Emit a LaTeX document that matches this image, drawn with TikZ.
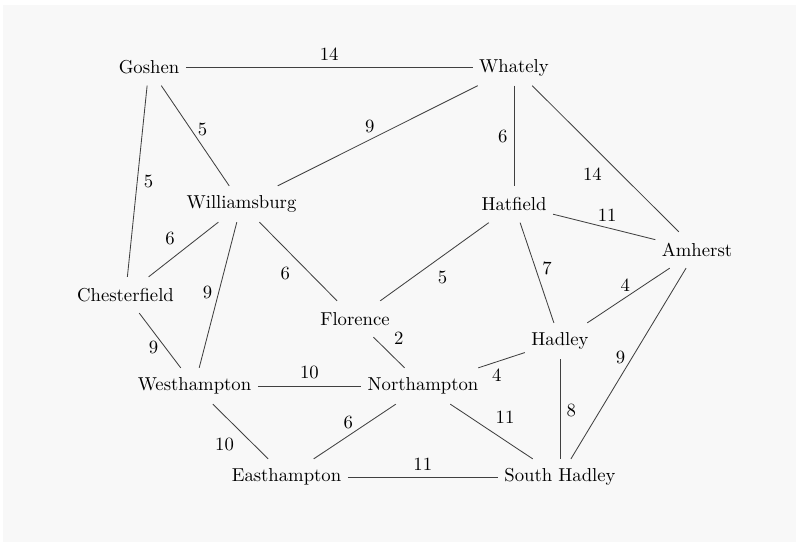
\documentclass[tikz,border=0pt]{standalone}
\definecolor{bgc}{HTML}{F8F8F8}
\begin{document}
\begin{tikzpicture}[x=0.5348pt,y=-0.5348pt,
  town/.style={inner sep=3.33pt,minimum height=19pt},
  road/.style={draw=black!75,line width=0.45pt},
  lbl/.style={inner sep=3.33pt,font=\normalsize}]
\fill[white] (0,0) rectangle (796,542);
\fill[bgc] (3,5) rectangle (796,542);
\useasboundingbox (0,0) rectangle (796,542);
% towns
\node[town] (gos) at (149,67.5) {Goshen};
\node[town] (wha) at (514,67.5) {Whately};
\node[town] (wil) at (241.5,204) {Williamsburg};
\node[town] (hat) at (514,204.5) {Hatfield};
\node[town] (amh) at (697,250) {Amherst};
\node[town] (che) at (125.5,295) {Chesterfield};
\node[town] (flo) at (355,319) {Florence};
\node[town] (had) at (560,341) {Hadley};
\node[town] (wes) at (194.5,386) {Westhampton};
\node[town] (nor) at (423,386) {Northampton};
\node[town] (eas) at (286.5,477) {Easthampton};
\node[town] (sou) at (560,477) {South Hadley};
% roads
\draw[road] (gos) -- node[lbl,pos=0.5,anchor=south] {14} (wha);
\draw[road] (gos) -- node[lbl,pos=0.44,anchor=west] {5} (wil);
\draw[road] (gos) -- node[lbl,pos=0.5,anchor=west] {5} (che);
\draw[road] (wha) -- node[lbl,pos=0.54,anchor=south] {9} (wil);
\draw[road] (wha) -- node[lbl,pos=0.5,anchor=east] {6} (hat);
\draw[road] (wha) -- node[lbl,pos=0.52,anchor=north east] {14} (amh);
\draw[road] (hat) -- node[lbl,pos=0.53,anchor=south] {11} (amh);
\draw[road] (hat) -- node[lbl,pos=0.53,anchor=north west] {5} (flo);
\draw[road] (hat) -- node[lbl,pos=0.46,anchor=west] {7} (had);
\draw[road] (amh) -- node[lbl,pos=0.54,anchor=south] {4} (had);
\draw[road] (amh) -- node[lbl,pos=0.47,anchor=east] {9} (sou);
\draw[road] (wil) -- node[lbl,pos=0.53,anchor=south east] {6} (che);
\draw[road] (wil) -- node[lbl,pos=0.48,anchor=east] {9} (wes);
\draw[road] (wil) -- node[lbl,pos=0.48,anchor=north east] {6} (flo);
\draw[road] (che) -- node[lbl,pos=0.62,anchor=east] {9} (wes);
\draw[road] (flo) -- node[lbl,pos=0.45,anchor=south west] {2} (nor);
\draw[road] (had) -- node[lbl,pos=0.6,anchor=north] {4} (nor);
\draw[road] (had) -- node[lbl,pos=0.51,anchor=west] {8} (sou);
\draw[road] (wes) -- node[lbl,pos=0.5,anchor=south] {10} (nor);
\draw[road] (wes) -- node[lbl,pos=0.5,anchor=north east] {10} (eas);
\draw[road] (nor) -- node[lbl,pos=0.58,anchor=south] {6} (eas);
\draw[road] (nor) -- node[lbl,pos=0.47,anchor=south west] {11} (sou);
\draw[road] (eas) -- node[lbl,pos=0.5,anchor=south] {11} (sou);
\end{tikzpicture}
\end{document}
